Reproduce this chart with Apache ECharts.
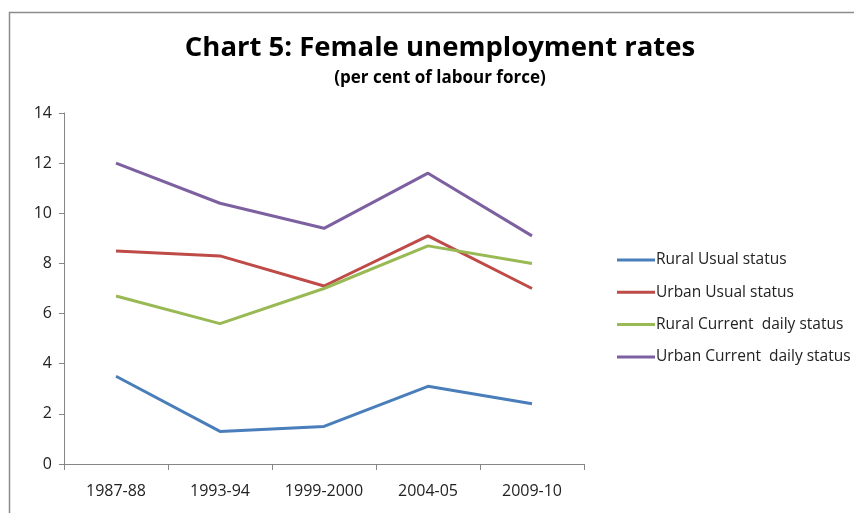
<!DOCTYPE html>
<html>
<head>
<meta charset="utf-8">
<script src="https://cdn.jsdelivr.net/npm/echarts@6/dist/echarts.min.js"></script>
<style>
  html, body { margin: 0; padding: 0; background: #fff; }
  #main { width: 854px; height: 513px; }
</style>
</head>
<body>
<div id="main"></div>
<script>
// 数据
const years = ['1987-88', '1993-94', '1999-2000', '2004-05', '2009-10'];
const ruralUsual = [3.5, 1.3, 1.5, 3.1, 2.4];
const urbanUsual = [8.5, 8.3, 7.1, 9.1, 7.0];
const ruralDaily = [6.7, 5.6, 7.0, 8.7, 8.0];
const urbanDaily = [12.0, 10.4, 9.4, 11.6, 9.1];
const seriesNames = ['Rural Usual status', 'Urban Usual status', 'Rural Current  daily status', 'Urban Current  daily status'];
const colors = ['#4a7ebb', '#be4b48', '#98b954', '#7d60a0'];

const font = '"Open Sans", "Liberation Sans", sans-serif';
const allData = [ruralUsual, urbanUsual, ruralDaily, urbanDaily];

const myChart = echarts.init(document.getElementById('main'));
myChart.setOption({
  animation: false,
  color: colors,
  title: {
    text: 'Chart 5: Female unemployment rates',
    subtext: '(per cent of labour force)',
    left: 435,
    textAlign: 'center',
    top: 29,
    itemGap: 8,
    textStyle: { fontFamily: font, fontWeight: 'bold', fontSize: 27.5, color: '#000' },
    subtextStyle: { fontFamily: font, fontWeight: 'bold', fontSize: 17, color: '#000' }
  },
  graphic: [{
    type: 'rect',
    shape: { x: 9.5, y: 12.5, width: 900, height: 600 },
    style: { fill: 'none', stroke: '#8c8c8c', lineWidth: 1.5 },
    silent: true
  }],
  legend: {
    orient: 'vertical',
    left: 612,
    top: 247,
    itemGap: 16.3,
    itemWidth: 38,
    itemHeight: 3,
    icon: 'rect',
    textStyle: { fontFamily: font, fontSize: 15.5, color: '#222', padding: [0, 0, 0, -4] },
    data: seriesNames
  },
  grid: { left: 64, right: 270, top: 113, bottom: 49 },
  xAxis: {
    type: 'category',
    data: years,
    boundaryGap: true,
    axisLine: { lineStyle: { color: '#868686', width: 1 } },
    axisTick: { show: true, length: 6, inside: false, lineStyle: { color: '#868686' } },
    axisLabel: { fontFamily: font, fontSize: 16, color: '#222', margin: 19 }
  },
  yAxis: {
    type: 'value',
    min: 0,
    max: 14,
    interval: 2,
    splitLine: { show: false },
    axisLine: { show: true, lineStyle: { color: '#868686', width: 1 } },
    axisTick: { show: true, length: 5, lineStyle: { color: '#868686' } },
    axisLabel: { fontFamily: font, fontSize: 16, color: '#222', margin: 12 }
  },
  series: allData.map((d, i) => ({
    name: seriesNames[i],
    type: 'line',
    data: d,
    symbol: 'none',
    lineStyle: { width: 3 }
  }))
});
</script>
</body>
</html>
